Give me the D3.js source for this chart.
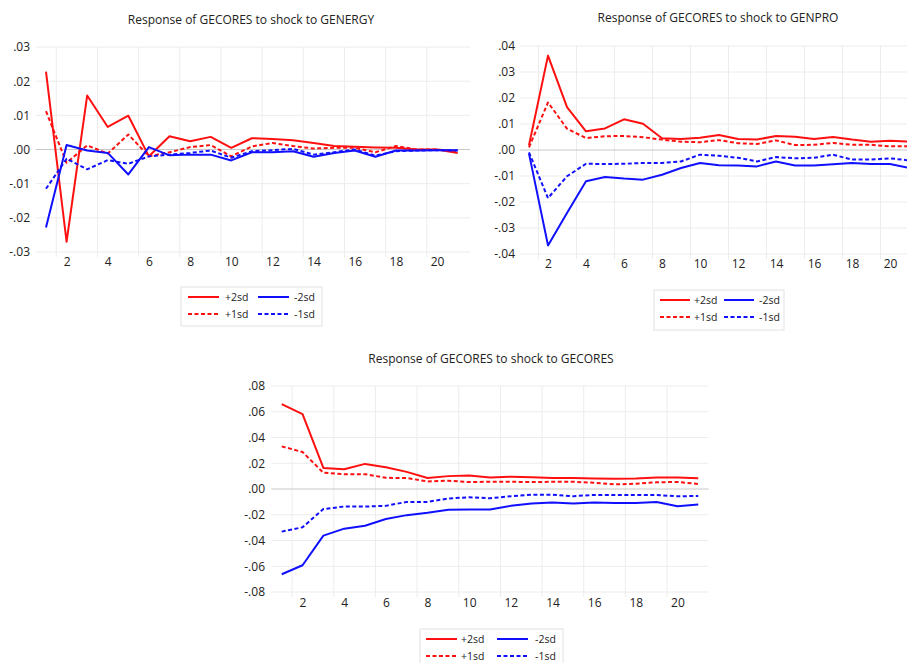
<!DOCTYPE html>
<html><head><meta charset="utf-8">
<script src="https://cdn.jsdelivr.net/npm/d3@7"></script>
<style>
body{margin:0;background:#fff}
svg{display:block}
text{font-family:"Open Sans",sans-serif;fill:#222}
</style>
</head><body>
<svg id="c" width="907" height="663"></svg>
<script>
// ---------- data ----------
const periods = [1,2,3,4,5,6,7,8,9,10,11,12,13,14,15,16,17,18,19,20,21];
const xTickLabels = [2,4,6,8,10,12,14,16,18,20];
const legendNames = ["+2sd","-2sd","+1sd","-1sd"];

const energyTicks = [0.03,0.02,0.01,0,-0.01,-0.02,-0.03];
const energyPlus2 = [0.0228,-0.0270,0.0158,0.0066,0.0099,-0.0020,0.0039,0.0024,0.0037,0.0005,0.0033,0.0031,0.0027,0.0019,0.0010,0.0008,0.0006,0.0005,0.0000,0.0000,-0.0010];
const energyPlus1 = [0.0112,-0.0039,0.0012,-0.0012,0.0044,-0.0020,-0.0008,0.0007,0.0013,-0.0020,0.0009,0.0019,0.0010,0.0003,0.0005,0.0005,-0.0008,0.0010,0.0000,0.0000,-0.0005];
const energyMinus2 = [-0.0228,0.0013,-0.0003,-0.0010,-0.0073,0.0007,-0.0017,-0.0015,-0.0015,-0.0032,-0.0008,-0.0008,-0.0005,-0.0021,-0.0010,-0.0003,-0.0021,-0.0003,-0.0003,-0.0002,-0.0002];
const energyMinus1 = [-0.0115,-0.0027,-0.0058,-0.0031,-0.0042,-0.0020,-0.0015,-0.0010,-0.0003,-0.0024,-0.0005,-0.0002,0.0002,-0.0015,-0.0008,0.0000,-0.0018,-0.0005,-0.0003,-0.0002,-0.0003];

const genproTicks = [0.04,0.03,0.02,0.01,0,-0.01,-0.02,-0.03,-0.04];
const genproPlus2 = [0.0018,0.0363,0.0165,0.0072,0.0083,0.0118,0.0101,0.0045,0.0042,0.0047,0.0058,0.0042,0.0040,0.0054,0.0051,0.0042,0.0050,0.0040,0.0032,0.0036,0.0032];
const genproPlus1 = [0.0010,0.0183,0.0082,0.0046,0.0053,0.0054,0.0049,0.0040,0.0032,0.0030,0.0038,0.0026,0.0023,0.0037,0.0019,0.0020,0.0027,0.0020,0.0020,0.0014,0.0014];
const genproMinus2 = [-0.0014,-0.0367,-0.0242,-0.0120,-0.0104,-0.0110,-0.0114,-0.0095,-0.0069,-0.0050,-0.0059,-0.0060,-0.0063,-0.0044,-0.0060,-0.0060,-0.0055,-0.0050,-0.0054,-0.0054,-0.0069];
const genproMinus1 = [-0.0009,-0.0185,-0.0101,-0.0053,-0.0054,-0.0053,-0.0050,-0.0050,-0.0044,-0.0018,-0.0022,-0.0030,-0.0044,-0.0027,-0.0032,-0.0030,-0.0018,-0.0037,-0.0037,-0.0032,-0.0040];

const gecoresTicks = [0.08,0.06,0.04,0.02,0,-0.02,-0.04,-0.06,-0.08];
const gecoresPlus2 = [0.0659,0.0582,0.0164,0.0154,0.0195,0.0169,0.0133,0.0085,0.0100,0.0105,0.0090,0.0095,0.0092,0.0085,0.0085,0.0082,0.0080,0.0082,0.0090,0.0090,0.0083];
const gecoresPlus1 = [0.0331,0.0287,0.0126,0.0115,0.0115,0.0087,0.0085,0.0059,0.0064,0.0054,0.0056,0.0056,0.0054,0.0056,0.0056,0.0049,0.0036,0.0041,0.0052,0.0055,0.0039];
const gecoresMinus2 = [-0.0662,-0.0592,-0.0362,-0.0308,-0.0285,-0.0233,-0.0203,-0.0185,-0.0162,-0.0159,-0.0159,-0.0131,-0.0113,-0.0105,-0.0113,-0.0105,-0.0108,-0.0109,-0.0101,-0.0134,-0.0121];
const gecoresMinus1 = [-0.0331,-0.0297,-0.0156,-0.0136,-0.0136,-0.0131,-0.0100,-0.0100,-0.0074,-0.0064,-0.0072,-0.0056,-0.0044,-0.0044,-0.0056,-0.0046,-0.0046,-0.0047,-0.0047,-0.0057,-0.0054];

// ---------- drawing ----------
const RED = "#ff1010", BLUE = "#1010ff";
const svg = d3.select("#c");
const fmt = v => { const s = d3.format(".2f")(Math.abs(v)).replace(/^0/, ""); return (v < 0 ? "-" : "") + s; };

const panels = [
  { title: "Response of GECORES to shock to GENERGY", titleX: 251, titleY: 24,
    xr: [35.7, 468], yr: [252, 47], ticks: energyTicks, labelX: 30, xLabelY: 269, gridRight: 470,
    series: [energyPlus2, energyPlus1, energyMinus2, energyMinus1],
    legend: { x: 181, y: 287, w: 141, h: 39, l1: 7, len: 31, t1: 44, l2: 77, t2: 113 } },
  { title: "Response of GECORES to shock to GENPRO", titleX: 718, titleY: 22,
    xr: [519.5, 918.5], yr: [254, 46], ticks: genproTicks, labelX: 515, xLabelY: 271, gridRight: 907,
    series: [genproPlus2, genproPlus1, genproMinus2, genproMinus1],
    legend: { x: 654, y: 290, w: 130, h: 40, l1: 6, len: 30, t1: 40, l2: 70, t2: 105 } },
  { title: "Response of GECORES to shock to GECORES", titleX: 491, titleY: 363,
    xr: [271.3, 708.7], yr: [592, 386], ticks: gecoresTicks, labelX: 265, xLabelY: 610, gridRight: 708.7,
    series: [gecoresPlus2, gecoresPlus1, gecoresMinus2, gecoresMinus1],
    legend: { x: 420, y: 629, w: 143, h: 40, l1: 6, len: 31, t1: 41, l2: 77, t2: 115 } }
];

const styles = [
  { color: RED, dash: null },
  { color: RED, dash: "4,2.5" },
  { color: BLUE, dash: null },
  { color: BLUE, dash: "4,2.5" }
];

panels.forEach(p => {
  const g = svg.append("g");
  const x = d3.scaleLinear().domain([0.5, 21.5]).range(p.xr);
  const y = d3.scaleLinear().domain([p.ticks[p.ticks.length - 1], p.ticks[0]]).range(p.yr);
  const left = p.xr[0], right = Math.min(p.gridRight, 907);

  g.append("text").attr("x", p.titleX).attr("y", p.titleY).attr("text-anchor", "middle")
    .style("font-size", "12px").style("font-weight", "500").text(p.title);

  const vGrid = xTickLabels.map(t => t - 0.5);
  g.selectAll(".vg").data(vGrid).join("line")
    .attr("x1", d => x(d)).attr("x2", d => x(d))
    .attr("y1", p.yr[1]).attr("y2", p.yr[0] + 5)
    .attr("stroke", "#ececec").attr("stroke-width", 1);

  g.selectAll(".hg").data(p.ticks).join("line")
    .attr("x1", left).attr("x2", right)
    .attr("y1", d => y(d)).attr("y2", d => y(d))
    .attr("stroke", d => d === 0 ? "#c8c8c8" : "#ececec").attr("stroke-width", 1);

  const yAxis = d3.axisLeft(y).tickValues(p.ticks).tickFormat(fmt).tickSize(0).tickPadding(0);
  const ya = g.append("g").attr("transform", `translate(${p.labelX},0)`).call(yAxis);
  ya.select(".domain").remove();
  ya.selectAll("text").style("font-size", "12px").style("font-family", '"Open Sans",sans-serif').attr("fill", "#222");

  const xAxis = d3.axisBottom(x).tickValues(xTickLabels).tickFormat(d3.format("d")).tickSize(0).tickPadding(0);
  const xa = g.append("g").attr("transform", `translate(0,${p.xLabelY - 12})`).call(xAxis);
  xa.select(".domain").remove();
  xa.selectAll("text").style("font-size", "12px").style("font-family", '"Open Sans",sans-serif').attr("fill", "#222").attr("dy", "0.71em");

  const line = d3.line().x((d, i) => x(periods[i])).y(d => y(d));
  p.series.forEach((s, i) => {
    g.append("path").datum(s).attr("d", line).attr("fill", "none")
      .attr("stroke", styles[i].color).attr("stroke-width", 2)
      .attr("stroke-dasharray", styles[i].dash).attr("stroke-linejoin", "round");
  });

  const L = p.legend;
  const lg = g.append("g").attr("transform", `translate(${L.x},${L.y})`);
  lg.append("rect").attr("width", L.w).attr("height", L.h).attr("fill", "#fff").attr("stroke", "#e2e2e2");
  const items = [
    { name: legendNames[0], st: styles[0], lx: L.l1, tx: L.t1, row: 0 },
    { name: legendNames[1], st: styles[2], lx: L.l2, tx: L.t2, row: 0 },
    { name: legendNames[2], st: styles[1], lx: L.l1, tx: L.t1, row: 1 },
    { name: legendNames[3], st: styles[3], lx: L.l2, tx: L.t2, row: 1 }
  ];
  items.forEach(it => {
    const ry = 10 + it.row * 17;
    lg.append("line").attr("x1", it.lx).attr("x2", it.lx + L.len).attr("y1", ry).attr("y2", ry)
      .attr("stroke", it.st.color).attr("stroke-width", 2).attr("stroke-dasharray", it.st.dash);
    lg.append("text").attr("x", it.tx).attr("y", ry + 4).style("font-size", "10.5px").text(it.name);
  });
});
</script>
</body></html>
